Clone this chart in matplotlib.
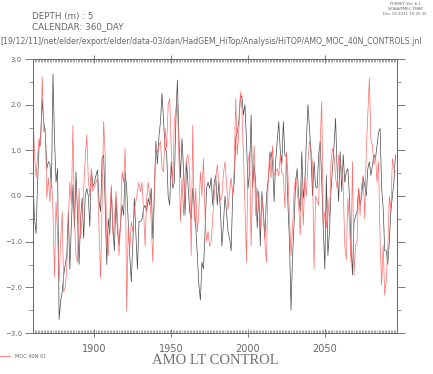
import numpy as np
import matplotlib
matplotlib.use("Agg")
import matplotlib.pyplot as plt
from matplotlib.ticker import MultipleLocator, FixedLocator

# annual values, 1860..2096
start_year = 1860

moc_black = [
    0.3, -0.5, -0.82, 0.3, 1.1, 1.3, 2.1, 1.6, 1.4, 0.6,          # 1860s
    0.75, 0.7, 0.17, 2.67, 1.26, 0.3, 0.6, -2.7, -2.3, -2.1,      # 1870s
    -1.73, -1.5, -1.3, -0.35, -1.6, -0.6, 0.24, -0.7, 0.53, -0.43,  # 1880s
    -1.5, -0.5, -0.05, -0.93, 0.0, 0.17, 0.0, -0.67, 0.57, 0.2,   # 1890s
    0.3, 0.45, 0.57, -0.12, -0.34, 0.82, 0.9, -0.2, -1.5, -0.5,   # 1900s
    -0.85, 0.17, -0.7, -1.2, -0.05, -0.78, -1.07, -0.6, -0.2, -0.42,
    0.53, 0.17, -0.56, -1.3, -1.88, -1.0, -0.05, -0.85, -1.6, -0.56,
    -0.56, -0.5, -0.27, -0.2, -0.34, -0.05, -0.2, 0.17, -0.93, 0.0,
    1.2, 0.7, 1.3, 1.63, 2.25, 1.63, 1.04, 0.97, 0.0, -0.2,       # 1940s
    0.75, 0.17, 0.3, 1.63, 2.54, 1.26, 0.4, 1.26, 0.6, -0.42,
    0.75, 0.2, -0.34, -0.5, 0.17, -0.2, -0.7, -1.3, -1.95, -2.28,
    -1.45, -1.6, -0.78, 0.17, 0.3, 0.17, 0.4, -0.2, 0.3, 0.45,
    -0.2, 0.3, -0.3, -1.1, -0.6, 0.0, -0.34, -0.78, -0.93, -1.2,  # 1980s
    0.0, 0.3, 1.26, 1.4, 1.63, 2.14, 2.2, 1.77, 2.0, 1.2,
    0.17, 0.53, 1.77, 0.17, 0.68, 0.3, -0.7, 0.1, -1.1, 0.1,      # 2000s
    -0.34, -0.93, 0.0, 0.3, 0.68, 0.97, 0.75, -0.12, 0.75, 1.2,
    1.63, 1.0, 0.7, 1.63, 0.9, 0.85, -0.2, -1.0, -2.5, -1.3,      # 2020s
    -0.6, 0.3, 0.6, 0.0, -0.34, 0.97, -0.05, 0.3, 1.2, 2.0,
    1.5, 0.9, 0.0, 0.75, 0.2, 0.17, 0.9, 1.2, 0.3, -0.7,          # 2040s
    -1.6, 0.45, -1.3, -0.8, 0.1, 0.6, 1.1, 1.7, 0.6, -0.12,
    0.97, 0.1, 0.9, 0.3, 0.53, 0.6, 0.0, -1.0, -1.73, -0.56,      # 2060s
    -0.45, -0.34, 0.17, -0.2, 0.0, 0.4, 0.24, 0.0, 0.6, 0.75,
    0.45, 0.68, 0.9, 0.82, 1.1, 1.4, 1.48, 0.17, -0.27, -1.2,     # 2080s
    -1.2, -1.5, -1.0, -0.34, 0.0, 0.3, 0.9,
]

moc_red = [
    1.77, 0.9, 0.4, 0.9, 1.26, 1.1, 2.61, 1.4, 1.48, -0.05,       # 1860s
    0.4, -0.12, 0.4, -0.34, -1.77, -0.12, -0.85, -1.88, -1.0, -0.34,
    -2.1, -2.0, -1.6, -0.56, 0.3, -0.2, 1.55, -0.56, -1.3, -1.45,
    0.17, -0.93, -0.5, 0.17, 0.8, 1.34, 0.4, 0.0, 0.6, 0.1,
    0.2, 0.3, 0.4, -0.7, -1.8, -0.2, 1.63, 0.9, -1.0, -1.3,       # 1900s
    -0.42, 0.24, -0.85, -0.56, 0.1, -0.42, -1.3, -0.56, 0.53, 0.3,
    1.04, -2.53, -0.7, -1.2, -0.56, -0.78, -0.27, -0.12, 0.1, 0.3,
    0.1, 0.3, -0.34, -1.1, -0.05, 0.3, 0.0, -0.6, -1.45, 0.17,
    1.1, 0.95, 1.1, 1.2, 0.6, 0.53, 1.48, 1.04, 2.0, 2.14,        # 1940s
    1.04, 0.24, 1.63, 1.92, 2.0, 0.9, -0.56, 0.4, -0.42, 0.45,
    0.82, 0.9, 0.53, -1.3, 1.55, -0.56, 0.17, -0.78, -0.34, 0.53,
    0.0, 0.82, -0.42, -1.0, -0.78, -1.1, -1.0, -0.5, 0.0, 0.4,
    0.68, 0.3, -0.1, 0.0, 0.5, 0.75, 0.3, -0.3, 0.1, 0.4,         # 1980s
    0.0, 0.6, 2.14, 0.9, 1.4, 2.28, 1.92, 0.9, -0.2, -1.45,
    0.75, 0.97, -1.1, 0.3, 1.1, -0.42, 0.17, -0.2, -0.7, -0.05,   # 2000s
    -0.42, -1.0, -1.45, 0.17, 0.97, 0.4, 1.1, 0.45, 0.53, 0.6,
    0.45, 0.9, 0.5, 0.45, -0.27, 0.97, 0.45, -0.5, -1.3, -0.7,    # 2020s
    0.1, 0.4, 0.17, -0.2, -0.85, 0.3, -0.63, 0.4, 0.0, 0.75,
    1.2, 1.04, 0.68, -1.6, 0.0, -0.1, -0.2, 1.2, 2.07, -0.7,      # 2040s
    -0.34, -0.7, -0.05, -0.56, 0.75, 1.04, 0.9, 0.4, 0.17, 0.9,
    0.75, 0.6, 0.17, -1.1, -1.4, -0.05, -0.56, -1.45, 0.75, -1.73,  # 2060s
    -1.07, -1.0, 0.17, -0.42, 0.24, 0.45, -0.5, 1.0, 1.77, 2.58,
    1.26, 1.1, 0.68, 0.9, 0.3, 0.75, -1.0, -1.95, -1.07, -2.17,   # 2080s
    -1.88, -1.15, 0.0, -0.34, 0.82, 0.6, 0.53,
]

years_black = np.arange(start_year, start_year + len(moc_black))
years_red = np.arange(start_year, start_year + len(moc_red))

x_labels = [1900, 1950, 2000, 2050]
y_labels = [3.0, 2.0, 1.0, 0.0, -1.0, -2.0, -3.0]

axis_grey = "#666666"
text_grey = "#666666"

fig = plt.figure(figsize=(4.33, 3.74), dpi=100)
ax = fig.add_axes([33/433, 1 - 333/374, 364/433, 274/374])

ax.plot(years_black, moc_black, color="#4a4a4a", lw=0.5)
ax.plot(years_red, moc_red, color="#ff6a6a", lw=0.5)

ax.set_xlim(1860, 2097)
ax.set_ylim(-3.0, 3.0)

ax.xaxis.set_major_locator(FixedLocator(x_labels))
ax.xaxis.set_minor_locator(MultipleLocator(1))
ax.set_xticklabels([str(v) for v in x_labels])
ax.yaxis.set_major_locator(FixedLocator(y_labels))
ax.yaxis.set_minor_locator(MultipleLocator(0.5))
ax.set_yticklabels([f"{v:.1f}".replace("-", "\u2212") for v in y_labels])

ax.tick_params(axis="x", which="major", direction="inout", length=6, width=0.6,
               color=axis_grey, top=True, labelsize=7, labelcolor=text_grey, pad=5)
ax.tick_params(axis="x", which="minor", direction="in", length=2.5, width=0.4,
               color=axis_grey, top=True)
ax.tick_params(axis="y", which="major", direction="out", length=6, width=0.6,
               color=axis_grey, right=True, labelsize=5, labelcolor=text_grey, pad=2)
ax.tick_params(axis="y", which="minor", direction="out", length=3, width=0.5,
               color=axis_grey, right=True)
for sp in ax.spines.values():
    sp.set_color(axis_grey)
    sp.set_linewidth(0.7)

# header text
fig.text(32/433, 1 - 17/374, "DEPTH (m) : 5", fontsize=6.3, color=text_grey, va="center")
fig.text(32/433, 1 - 27/374, "CALENDAR: 360_DAY", fontsize=6.3, color=text_grey, va="center")
fig.text(0.0, 1 - 42/374,
         "[19/12/11]/net/elder/export/elder/data-03/dan/HadGEM_HiTop/Analysis/HiTOP/AMO_MOC_40N_CONTROLS.jnl",
         fontsize=5.6, color=text_grey, va="center")
for i, line in enumerate(["FERRET Ver. 6.1", "NOAA/PMEL TMAP", "Dec 19 2011 10:35:35"]):
    fig.text(405/433, 1 - (4 + 5 * i)/374, line, fontsize=2.8, color=text_grey,
             ha="center", va="center")

# legend entry and title
fig.add_artist(plt.Line2D([0, 10/433], [1 - 356/374, 1 - 356/374], color="#ff6a6a", lw=0.6))
fig.text(15/433, 1 - 356/374, "MOC 40N 01", fontsize=3.6, color=text_grey, va="center")
fig.text(215/433, 1 - 361/374, "AMO LT CONTROL", fontsize=10.5, color="#707070",
         family=["Liberation Serif", "DejaVu Serif"], ha="center", va="center")

fig.savefig("out.png", dpi=100)
